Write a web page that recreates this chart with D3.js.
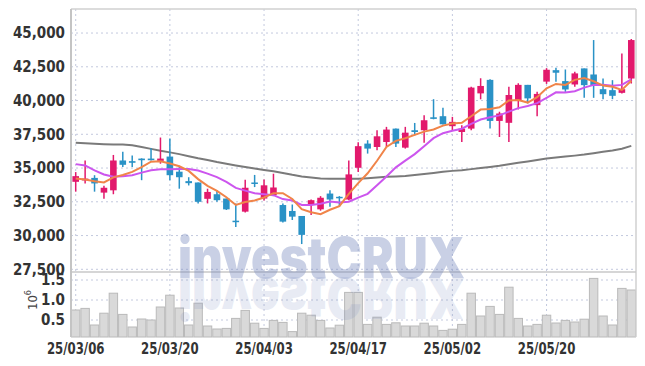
<!DOCTYPE html>
<html lang="en">
<head>
<meta charset="utf-8">
<title>Candles</title>
<script src="https://cdn.jsdelivr.net/npm/d3@7"></script>
<style>
  body { margin: 0; background: #fff; }
  svg text { font-family: "Liberation Sans Narrow", "DejaVu Sans Condensed", "Roboto", sans-serif; }
  .axis text { font-size: 15px; font-weight: bold; fill: #333; }
  .grid line { stroke: #c3c9de; stroke-width: 1; stroke-dasharray: 2,3; }
</style>
</head>
<body>
<script>
// trading days (yy/mm/dd)
const dates = ["25/03/06","25/03/07","25/03/10","25/03/11","25/03/12","25/03/13","25/03/14","25/03/17","25/03/18","25/03/19",
  "25/03/20","25/03/21","25/03/24","25/03/25","25/03/26","25/03/27","25/03/28","25/03/31","25/04/01","25/04/02",
  "25/04/03","25/04/04","25/04/07","25/04/08","25/04/09","25/04/10","25/04/11","25/04/14","25/04/15","25/04/16",
  "25/04/17","25/04/18","25/04/21","25/04/22","25/04/23","25/04/24","25/04/25","25/04/28","25/04/29","25/04/30",
  "25/05/02","25/05/07","25/05/08","25/05/09","25/05/12","25/05/13","25/05/14","25/05/15","25/05/16","25/05/19",
  "25/05/20","25/05/21","25/05/22","25/05/23","25/05/26","25/05/27","25/05/28","25/05/29","25/05/30","25/06/02"];

const opens = [33980,34080,34270,33180,33350,35560,35510,35700,35700,35530,
  35850,34730,34030,33930,32720,33060,32740,31100,31770,33930,
  32740,32990,32260,31820,31450,32300,31940,33110,32870,32670,
  35020,36810,36560,36930,37920,36510,37800,37800,38760,38840,
  38100,37670,37920,40530,41530,38490,38350,40040,41160,39660,
  41400,42250,41440,41190,42380,41930,40840,40770,40570,41630];
const highs = [34700,35550,34470,33690,35970,36210,35920,35720,36460,37260,
  37190,35170,34320,33930,33470,33350,32740,32380,34130,34490,
  34150,34580,32380,32300,31450,32670,32920,33360,32920,35560,
  36910,37060,37800,38050,37920,38050,38340,38910,40100,39460,
  38790,38170,41030,41650,41580,39170,41030,41280,41160,40660,
  42400,42430,42300,42130,42380,44480,41630,41510,43490,44560];
const lows = [33250,33860,33250,32720,33060,35070,35070,34100,35560,35320,
  34100,33470,33710,32380,32380,32500,31890,30630,31700,33590,
  32600,32920,30960,31150,29370,31520,31840,32130,32130,32620,
  34710,36070,36310,36560,36560,36440,37430,36880,38610,38220,
  37800,36930,37800,40090,37920,37300,36930,39340,39790,38840,
  41230,41390,40640,41020,40200,40200,40100,40100,40520,41260];
const closes = [34400,34220,33860,33540,35560,35240,35390,35580,35580,35700,
  34470,34320,33880,32500,33230,32620,31940,31050,33540,33840,
  33720,33560,31030,31400,30050,32620,32800,32670,32770,34530,
  36620,36440,37350,37850,36810,37620,37670,38540,38640,38240,
  38420,37920,40960,41080,38490,39040,40410,41160,40160,40490,
  42280,42060,40820,42010,41140,41140,40470,40350,40840,44480];

// moving averages
const ma5 = [34220,34150,34030,33930,34310,34480,34720,35060,35470,35500,
  35340,35130,34790,34180,33680,33310,32840,32270,32480,32600,
  32820,33140,33140,32710,31950,31730,31580,31910,32180,33080,
  33880,34610,35540,36560,37010,37210,37460,37700,37860,38140,
  38300,38350,38840,39330,39380,39500,40000,40040,39850,40250,
  40900,41230,41160,41530,41660,41430,41110,41020,40790,41460];
const ma10 = [35290,35190,34830,34520,34350,34390,34470,34660,34830,34910,
  34910,34930,34930,34820,34590,34330,33980,33530,33330,33140,
  33060,32990,32700,32590,32270,32270,32360,32520,32440,32510,
  32810,33090,33730,34370,35050,35550,36030,36620,37210,37580,
  37760,37910,38270,38590,38760,38900,39180,39440,39590,39810,
  40200,40610,40600,40690,40960,41160,41170,41090,41160,41560];
const ma60 = [36880,36840,36800,36770,36750,36740,36690,36560,36420,36280,
  36160,36030,35880,35730,35600,35450,35320,35190,35070,34960,
  34860,34760,34640,34500,34380,34300,34230,34210,34200,34200,
  34210,34250,34300,34350,34380,34410,34480,34560,34640,34720,
  34790,34840,34920,35000,35080,35170,35280,35390,35490,35600,
  35700,35780,35850,35920,36000,36100,36200,36300,36430,36640];

const volumes = [750000,790000,375000,670000,1170000,640000,325000,525000,500000,825000,
  1120000,800000,375000,920000,350000,275000,290000,540000,740000,420000,
  290000,490000,440000,210000,670000,620000,490000,300000,370000,1190000,
  1190000,390000,570000,390000,430000,350000,350000,420000,350000,240000,
  270000,390000,1170000,600000,840000,640000,1320000,540000,350000,390000,
  620000,425000,490000,450000,520000,1540000,600000,375000,1290000,1250000];

const priceTicks = [27500,30000,32500,35000,37500,40000,42500,45000];
const volTicks = [500000,1000000,1500000];
const dateTicks = ["25/03/06","25/03/20","25/04/03","25/04/17","25/05/02","25/05/20"];

const W = 645, H = 366;
const plotL = 71, plotR = 636, plotT = 9, split = 272, plotB = 337;

const svg = d3.select("body").append("svg")
  .attr("width", W)
  .attr("height", H);

const x = d3.scaleBand().domain(dates).range([plotL, plotR]).padding(0);
const y = d3.scaleLinear().domain([27300, 46780]).range([split, plotT]);
const yv = d3.scaleLinear().domain([75000, 1700000]).range([plotB, split]);
const cx = d => x(d) + x.bandwidth() / 2;

// grid
const grid = svg.append("g").attr("class", "grid");
grid.selectAll("line.h")
  .data(priceTicks)
  .join("line")
  .attr("x1", plotL).attr("x2", plotR)
  .attr("y1", d => y(d)).attr("y2", d => y(d));
grid.selectAll("line.hv")
  .data(volTicks)
  .join("line")
  .attr("class", "hv")
  .attr("x1", plotL).attr("x2", plotR)
  .attr("y1", d => yv(d)).attr("y2", d => yv(d));
grid.selectAll("line.v")
  .data(dateTicks)
  .join("line")
  .attr("class", "v")
  .attr("x1", cx).attr("x2", cx)
  .attr("y1", plotT).attr("y2", plotB);

// volume bars
svg.append("g")
  .selectAll("rect")
  .data(dates)
  .join("rect")
  .attr("x", d => x(d) + 0.5)
  .attr("width", x.bandwidth() - 1)
  .attr("y", (d, i) => yv(volumes[i]))
  .attr("height", (d, i) => plotB - yv(volumes[i]))
  .attr("fill", "#d9d9d9")
  .attr("stroke", "#bababa")
  .attr("stroke-width", 1);

// moving averages
const line = arr => d3.line()
  .x((d, i) => cx(dates[i]))
  .y(d => y(d))(arr);

svg.append("path").attr("d", line(ma60))
  .attr("fill", "none").attr("stroke", "#7a7a7a").attr("stroke-width", 2);

// candles
const upColor = "#e2196c", downColor = "#2a92c6";
const candles = svg.append("g")
  .selectAll("g")
  .data(dates)
  .join("g");
candles.append("line")
  .attr("x1", cx).attr("x2", cx)
  .attr("y1", (d, i) => y(highs[i]))
  .attr("y2", (d, i) => y(lows[i]))
  .attr("stroke", (d, i) => closes[i] >= opens[i] ? upColor : downColor)
  .attr("stroke-width", 1.5);
const bw = x.bandwidth() * 0.7;
candles.append("rect")
  .attr("x", d => cx(d) - bw / 2)
  .attr("width", bw)
  .attr("y", (d, i) => y(Math.max(opens[i], closes[i])))
  .attr("height", (d, i) => Math.max(1.5, Math.abs(y(opens[i]) - y(closes[i]))))
  .attr("fill", (d, i) => closes[i] >= opens[i] ? upColor : downColor);

svg.append("path").attr("d", line(ma10))
  .attr("fill", "none").attr("stroke", "#cc55ee").attr("stroke-width", 2);
svg.append("path").attr("d", line(ma5))
  .attr("fill", "none").attr("stroke", "#f08449").attr("stroke-width", 2);

// frame
svg.append("line").attr("x1", plotL).attr("x2", plotR).attr("y1", plotT).attr("y2", plotT)
  .attr("stroke", "#d0d0d0").attr("stroke-width", 1.5);
svg.append("line").attr("x1", plotR).attr("x2", plotR).attr("y1", plotT).attr("y2", plotB)
  .attr("stroke", "#d0d0d0").attr("stroke-width", 1.5);
svg.append("line").attr("x1", plotL).attr("x2", plotR).attr("y1", split).attr("y2", split)
  .attr("stroke", "#c8c8c8").attr("stroke-width", 1.5);
svg.append("line").attr("x1", plotL).attr("x2", plotL).attr("y1", plotT).attr("y2", plotB)
  .attr("stroke", "#c4c4c4").attr("stroke-width", 2);

// watermark + reflection
const wm = svg.append("g").attr("pointer-events", "none");
wm.append("text")
  .attr("x", 178).attr("y", 278)
  .attr("textLength", 287).attr("lengthAdjust", "spacingAndGlyphs")
  .style("font-family", "Inter, 'Open Sans', sans-serif")
  .style("font-size", "57px").style("font-weight", "900")
  .attr("fill", "#7386bd").attr("opacity", 0.38)
  .text("investCRUX");
wm.append("text")
  .attr("x", 178).attr("y", 278)
  .attr("transform", "translate(0,556) scale(1,-1)")
  .attr("textLength", 287).attr("lengthAdjust", "spacingAndGlyphs")
  .style("font-family", "Inter, 'Open Sans', sans-serif")
  .style("font-size", "57px").style("font-weight", "900")
  .attr("fill", "#7386bd").attr("opacity", 0.16)
  .text("investCRUX");

// axes
svg.append("g").attr("class", "axis")
  .attr("transform", `translate(${plotL},0)`)
  .call(d3.axisLeft(y).tickValues(priceTicks).tickFormat(d3.format(",")).tickSize(0).tickPadding(6))
  .call(g => g.select(".domain").remove());
svg.append("g").attr("class", "axis")
  .attr("transform", `translate(${plotL},0)`)
  .call(d3.axisLeft(yv).tickValues(volTicks).tickFormat(d => (d / 1e6).toFixed(1)).tickSize(0).tickPadding(6))
  .call(g => g.select(".domain").remove());
svg.append("g").attr("class", "axis")
  .attr("transform", `translate(0,${plotB})`)
  .call(d3.axisBottom(x).tickValues(dateTicks).tickSize(0).tickPadding(6))
  .call(g => g.select(".domain").remove())
  .call(g => g.selectAll("text").attr("transform", "scale(0.87,1)"));

const unit = svg.append("text")
  .attr("transform", "translate(37,300) rotate(-90)")
  .attr("text-anchor", "middle")
  .style("font-size", "13px")
  .attr("fill", "#444");
unit.append("tspan").text("10");
unit.append("tspan").attr("dy", -6).style("font-size", "9px").text("6");
</script>
</body>
</html>
